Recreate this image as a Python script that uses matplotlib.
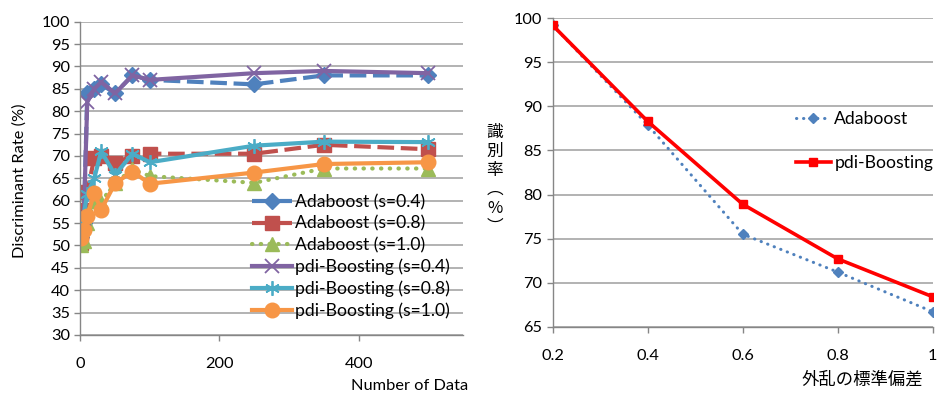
import matplotlib
matplotlib.use("Agg")
import matplotlib.pyplot as plt

plt.rcParams['font.family'] = ['Lato', 'Noto Sans CJK JP', 'DejaVu Sans']

# ---------------- Left chart data ----------------
n_data = [1, 5, 10, 20, 30, 50, 75, 100, 250, 350, 500]
ada_04 = [52.0, 55.0, 84.0, 85.0, 86.0, 84.0, 88.0, 87.0, 86.0, 88.0, 88.0]
ada_08 = [50.5, 58.0, 62.0, 69.5, 70.0, 68.5, 70.0, 70.5, 70.5, 72.5, 71.5]
ada_10 = [50.2, 51.0, 55.0, 60.0, 59.8, 64.0, 67.0, 65.5, 64.0, 67.2, 67.2]
pdi_04 = [55.0, 56.0, 82.0, 85.0, 86.5, 84.0, 88.0, 87.0, 88.5, 89.0, 88.5]
pdi_08 = [53.0, 57.0, 61.5, 65.0, 71.0, 65.8, 70.5, 68.6, 72.3, 73.2, 73.1]
pdi_10 = [51.6, 53.5, 56.5, 61.7, 58.0, 63.9, 66.5, 63.8, 66.3, 68.2, 68.6]
left_labels = ['Adaboost (s=0.4)', 'Adaboost (s=0.8)', 'Adaboost (s=1.0)',
               'pdi-Boosting (s=0.4)', 'pdi-Boosting (s=0.8)', 'pdi-Boosting (s=1.0)']
left_xticks = [0, 200, 400]
left_yticks = list(range(30, 101, 5))

# ---------------- Right chart data ----------------
sigma = [0.2, 0.4, 0.6, 0.8, 1.0]
ada_rate = [99.2, 87.9, 75.5, 71.2, 66.7]
pdi_rate = [99.2, 88.3, 78.9, 72.7, 68.4]
right_labels = ['Adaboost', 'pdi-Boosting']
right_xticks = [0.2, 0.4, 0.6, 0.8, 1.0]
right_xticklabels = ['0.2', '0.4', '0.6', '0.8', '1']
right_yticks = list(range(65, 101, 5))

W, H = 945, 397
fig = plt.figure(figsize=(W / 100, H / 100), dpi=100)

def frac(x0, y0, x1, y1):
    return [x0 / W, 1 - y1 / H, (x1 - x0) / W, (y1 - y0) / H]

grid_c = '#A6A6A6'
axis_c = '#868686'
FS = 11.8
LFS = 12.6

def style(ax):
    for s in ['top', 'right']:
        ax.spines[s].set_visible(False)
    for s in ['left', 'bottom']:
        ax.spines[s].set_color(axis_c)
        ax.spines[s].set_linewidth(1.0)
    ax.grid(axis='y', color=grid_c, linewidth=1.2)
    ax.set_axisbelow(True)
    ax.tick_params(axis='both', colors=axis_c, labelcolor='black', labelsize=FS,
                   length=4, width=1.0, direction='out')

# ---------------- Left ----------------
ax1 = fig.add_axes(frac(80.3, 21.7, 463, 335))
style(ax1)
c_blue, c_red, c_green = '#4F81BD', '#C0504D', '#9BBB59'
c_purple, c_aqua, c_orange = '#8064A2', '#4BACC6', '#F79646'
lw = 3.0
ax1.plot(n_data, ada_04, color=c_blue, lw=lw, ls=(0, (4, 1.6)), marker='D', ms=8.5,
         label=left_labels[0])
ax1.plot(n_data, ada_08, color=c_red, lw=lw, ls=(0, (4, 1.6)), marker='s', ms=9.5,
         label=left_labels[1])
ax1.plot(n_data, ada_10, color=c_green, lw=lw, ls=(0, (0.1, 2.0)), dash_capstyle='round',
         marker='^', ms=9.5, label=left_labels[2])
ax1.plot(n_data, pdi_04, color=c_purple, lw=lw, marker='x', ms=9.5, mew=1.3,
         label=left_labels[3])
ax1.plot(n_data, pdi_08, color=c_aqua, lw=lw, marker=(6, 2, 0), ms=10.5, mew=1.3,
         label=left_labels[4])
ax1.plot(n_data, pdi_10, color=c_orange, lw=lw, marker='o', ms=10.5,
         label=left_labels[5])
ax1.set_xlim(0, 550)
ax1.set_ylim(30, 100)
ax1.set_xticks(left_xticks)
ax1.set_yticks(left_yticks)
ax1.tick_params(axis='x', pad=12)
ax1.legend(loc='lower right', bbox_to_anchor=(0.965, 0.05), frameon=False,
           fontsize=LFS, handlelength=2.3, handletextpad=0.15,
           labelspacing=0.31, borderaxespad=0.0, borderpad=0.0)
fig.text(20 / W, 1 - 181 / H, 'Discriminant Rate (%)', rotation=90,
         ha='center', va='center', fontsize=FS)
fig.text(468 / W, 1 - 386 / H, 'Number of Data', ha='right', va='center', fontsize=FS)

# ---------------- Right ----------------
ax2 = fig.add_axes(frac(552.7, 18.3, 932.7, 326.7))
style(ax2)
ax2.plot(sigma, ada_rate, color='#4F81BD', lw=2.2, ls=(0, (0.1, 2.2)),
         dash_capstyle='round', marker='D', ms=5, label=right_labels[0])
ax2.plot(sigma, pdi_rate, color='#FF0000', lw=2.6, marker='s', ms=6,
         label=right_labels[1], zorder=3)
ax2.set_xlim(0.2, 1.0)
ax2.set_ylim(65, 100)
ax2.set_xticks(right_xticks)
ax2.set_xticklabels(right_xticklabels)
ax2.set_yticks(right_yticks)
ax2.tick_params(axis='x', pad=12)
ax2.legend(loc='upper left', bbox_to_anchor=(0.64, 0.698), frameon=False,
           fontsize=LFS, handlelength=2.0, handletextpad=0.2,
           labelspacing=1.6, borderaxespad=0.0, borderpad=0.0)
fig.text(495 / W, 1 - 180 / H, '識\n別\n率\n︵\n%\n︶', ha='center', va='center',
         fontsize=12, linespacing=1.15, family=['Noto Sans CJK JP', 'DejaVu Sans'])
fig.text(923 / W, 1 - 380 / H, '外乱の標準偏差', ha='right', va='center',
         fontsize=12.5, family=['Noto Sans CJK JP', 'DejaVu Sans'])

fig.savefig('out.png', dpi=100)
